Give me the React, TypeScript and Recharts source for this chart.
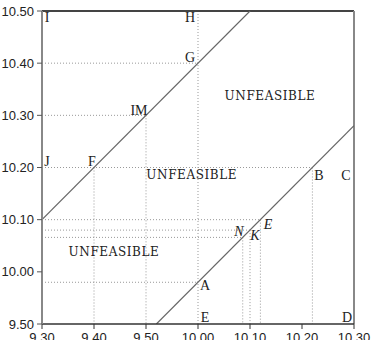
import React from "react";
import {
  ComposedChart,
  Line,
  Scatter,
  XAxis,
  YAxis,
  ReferenceLine,
} from "recharts";

// Plot coordinates (axis has breaks: ticks are evenly spaced but labelled as below)
const xTickValues = [9.3, 9.4, 9.5, 9.6, 9.7, 9.8, 9.9];
const xTickLabels = ["9.30", "9.40", "9.50", "10.00", "10.10", "10.20", "10.30"];
const yTickValues = [9.9, 10.0, 10.1, 10.2, 10.3, 10.4, 10.5];
const yTickLabels = ["9.50", "10.00", "10.10", "10.20", "10.30", "10.40", "10.50"];

// Boundary lines
const upperBoundary = [
  { x: 9.3, y: 10.1 },
  { x: 9.7, y: 10.5 },
];
const lowerBoundary = [
  { x: 9.52, y: 9.9 },
  { x: 9.9, y: 10.28 },
];

// Dotted horizontal guides: from left axis to x end
const hGuides = [
  { y: 10.4, xEnd: 9.6 },
  { y: 10.3, xEnd: 9.5 },
  { y: 10.2, xEnd: 9.82 },
  { y: 10.1, xEnd: 9.72 },
  { y: 10.08, xEnd: 9.7 },
  { y: 10.066, xEnd: 9.686 },
  { y: 9.98, xEnd: 9.6 },
];
// Dotted vertical guides: from y start down to bottom axis
const vGuides = [
  { x: 9.4, yStart: 10.2 },
  { x: 9.5, yStart: 10.3 },
  { x: 9.6, yStart: 10.5 },
  { x: 9.686, yStart: 10.066 },
  { x: 9.7, yStart: 10.08 },
  { x: 9.72, yStart: 10.1 },
  { x: 9.82, yStart: 10.2 },
];

// Point labels
const pointLabels = [
  { x: 9.3096, y: 10.4866, text: "I", kind: "pt" },
  { x: 9.5846, y: 10.4866, text: "H", kind: "pt" },
  { x: 9.5846, y: 10.41, text: "G", kind: "pt" },
  { x: 9.4865, y: 10.31, text: "IM", kind: "pt" },
  { x: 9.3096, y: 10.211, text: "J", kind: "pt" },
  { x: 9.396, y: 10.211, text: "F", kind: "pt" },
  { x: 9.8327, y: 10.184, text: "B", kind: "pt" },
  { x: 9.8846, y: 10.184, text: "C", kind: "pt" },
  { x: 9.6788, y: 10.0766, text: "N", kind: "it" },
  { x: 9.7096, y: 10.069, text: "K", kind: "it" },
  { x: 9.7346, y: 10.09, text: "E", kind: "it" },
  { x: 9.6135, y: 9.973, text: "A", kind: "pt" },
  { x: 9.6135, y: 9.912, text: "E", kind: "pt" },
  { x: 9.8865, y: 9.912, text: "D", kind: "pt" },
];
const regionLabels = [
  { x: 9.7385, y: 10.337, text: "UNFEASIBLE", kind: "region" },
  { x: 9.588, y: 10.186, text: "UNFEASIBLE", kind: "region" },
  { x: 9.4385, y: 10.038, text: "UNFEASIBLE", kind: "region" },
];

const guideStroke = "#999";

const LabelShape = (props: any) => {
  const { cx, cy, payload } = props;
  if (cx == null || cy == null) return null;
  const kind = payload.kind;
  if (kind === "region") {
    return (
      <text
        x={cx}
        y={cy}
        textAnchor="middle"
        dominantBaseline="central"
        fontFamily="DejaVu Serif"
        fontSize={12}
        letterSpacing={0.6}
        fill="#222"
      >
        {payload.text}
      </text>
    );
  }
  return (
    <text
      x={cx}
      y={cy}
      textAnchor="middle"
      dominantBaseline="central"
      fontFamily="Liberation Serif"
      fontSize={14}
      fontStyle={kind === "it" ? "italic" : "normal"}
      fill="#222"
    >
      {payload.text}
    </text>
  );
};

export default function App() {
  return (
    <div style={{ position: "absolute", left: 0, top: 0, background: "#fff" }}>
      <ComposedChart
        width={373}
        height={340}
        margin={{ top: 11, right: 19, left: 0, bottom: 0 }}
      >
        <XAxis
          type="number"
          dataKey="x"
          domain={[9.3, 9.9]}
          ticks={xTickValues}
          tickFormatter={(v: number) => xTickLabels[xTickValues.findIndex((t) => Math.abs(t - v) < 1e-6)] ?? ""}
          allowDataOverflow
          height={16}
          tickSize={5}
          tickMargin={4}
          axisLine={{ stroke: "#333", strokeWidth: 1.5 }}
          tickLine={{ stroke: "#333" }}
          tick={{ fontFamily: "Liberation Sans", fontSize: 13, fill: "#222" }}
          interval={0}
        />
        <YAxis
          type="number"
          dataKey="y"
          domain={[9.9, 10.5]}
          ticks={yTickValues}
          tickFormatter={(v: number) => yTickLabels[yTickValues.findIndex((t) => Math.abs(t - v) < 1e-6)] ?? ""}
          allowDataOverflow
          width={42}
          tickSize={5}
          tickMargin={3}
          axisLine={{ stroke: "#888", strokeWidth: 2 }}
          tickLine={{ stroke: "#555" }}
          tick={{ fontFamily: "Liberation Sans", fontSize: 13, fill: "#222" }}
          interval={0}
        />
        {hGuides.map((g, i) => (
          <ReferenceLine
            key={"h" + i}
            segment={[
              { x: 9.3, y: g.y },
              { x: g.xEnd, y: g.y },
            ]}
            stroke={guideStroke}
            strokeDasharray="1 2"
            strokeWidth={1}
            ifOverflow="visible"
          />
        ))}
        {vGuides.map((g, i) => (
          <ReferenceLine
            key={"v" + i}
            segment={[
              { x: g.x, y: g.yStart },
              { x: g.x, y: 9.9 },
            ]}
            stroke={guideStroke}
            strokeDasharray="1 2"
            strokeWidth={1}
            ifOverflow="visible"
          />
        ))}
        <ReferenceLine
          segment={[
            { x: 9.3, y: 10.5 },
            { x: 9.9, y: 10.5 },
          ]}
          stroke="#444"
          strokeWidth={2}
          ifOverflow="visible"
        />
        <ReferenceLine
          segment={[
            { x: 9.9, y: 10.5 },
            { x: 9.9, y: 9.9 },
          ]}
          stroke="#888"
          strokeWidth={2}
          ifOverflow="visible"
        />
        <Line
          data={upperBoundary}
          dataKey="y"
          stroke="#666"
          strokeWidth={1.2}
          dot={false}
          isAnimationActive={false}
          type="linear"
        />
        <Line
          data={lowerBoundary}
          dataKey="y"
          stroke="#666"
          strokeWidth={1.2}
          dot={false}
          isAnimationActive={false}
          type="linear"
        />
        <Scatter
          data={pointLabels}
          dataKey="y"
          shape={LabelShape}
          isAnimationActive={false}
        />
        <Scatter
          data={regionLabels}
          dataKey="y"
          shape={LabelShape}
          isAnimationActive={false}
        />
      </ComposedChart>
    </div>
  );
}
